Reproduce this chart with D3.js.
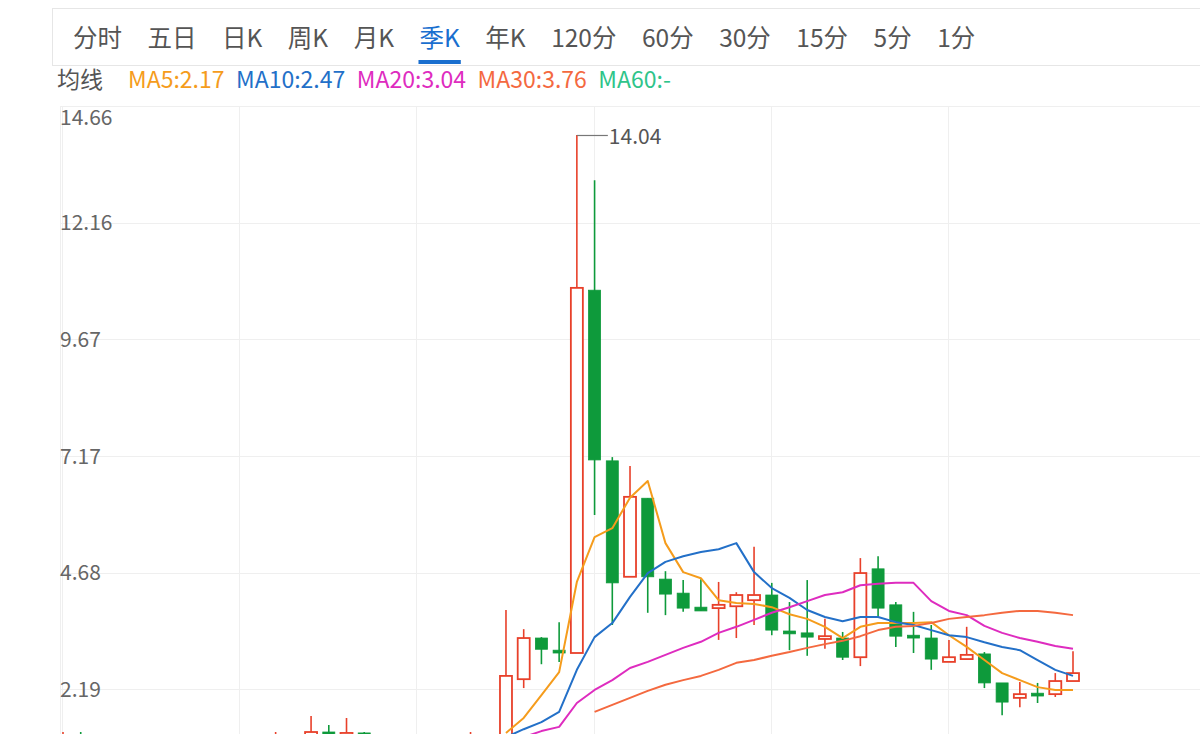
<!DOCTYPE html>
<html><head><meta charset="utf-8">
<script src="https://cdn.jsdelivr.net/npm/d3@7"></script>
<style>
body{margin:0;background:#fff;overflow:hidden}
svg{display:block;font-family:"Noto Sans CJK SC","Noto Sans",sans-serif}
</style>
</head><body>
<svg id="c" width="1200" height="734"></svg>
<script>
// ---------- data ----------
const tabs = ["分时","五日","日K","周K","月K","季K","年K","120分","60分","30分","15分","5分","1分"];
const activeTab = "季K";
const legendTitle = "均线";
const maLabels = ["MA5:2.17","MA10:2.47","MA20:3.04","MA30:3.76","MA60:-"];
const tickValues = [14.66, 12.16, 9.67, 7.17, 4.68, 2.19];
const tickLabels = ["14.66","12.16","9.67","7.17","4.68","2.19"];
const maxLabel = "14.04";

// quarterly candles (index 0..57)
const open  = [1.10,1.20,1.10,1.00,0.95,0.90,0.85,0.88,0.80,0.78,0.82,0.90,0.95,1.10,1.05,1.27,1.15,1.25,1.18,1.05,0.95,0.85,0.80,0.90,1.05,
               1.05,2.40,3.28,3.02,2.96,10.72,7.07,4.59,6.27,4.54,4.24,3.94,3.92,3.96,4.09,4.20,3.43,3.39,3.26,3.28,2.87,4.76,3.99,3.34,3.28,2.77,2.83,2.94,2.32,2.00,2.10,2.08,2.36];
const high  = [1.27,1.27,1.15,1.05,1.00,0.95,0.92,0.92,0.85,0.85,0.92,1.10,1.27,1.15,1.61,1.42,1.57,1.27,1.20,1.08,0.98,0.88,0.92,1.27,1.20,
               3.88,3.47,3.30,3.62,14.04,13.07,7.15,6.96,6.27,4.71,4.52,4.54,4.48,4.26,5.23,4.46,4.05,4.52,3.69,3.41,4.99,5.03,4.05,3.84,3.56,3.24,3.52,2.98,2.32,2.34,2.32,2.53,3.00];
const low   = [1.00,1.05,0.95,0.85,0.85,0.80,0.80,0.75,0.72,0.74,0.78,0.85,0.90,1.00,1.00,1.10,1.08,1.10,1.00,0.90,0.80,0.75,0.75,0.85,1.00,
               1.00,2.21,2.72,2.77,2.96,5.91,3.56,4.59,3.82,3.77,3.84,3.86,3.24,3.28,3.56,3.34,3.02,2.90,3.05,2.81,2.68,3.73,3.09,2.96,2.60,2.77,2.83,2.21,1.63,1.80,1.89,2.02,2.36];
const close = [1.20,1.12,1.00,0.95,0.90,0.85,0.88,0.80,0.78,0.82,0.90,0.95,1.10,1.05,1.27,1.15,1.25,1.18,1.05,0.95,0.85,0.80,0.90,1.05,1.15,
               2.47,3.28,3.04,2.96,10.77,7.09,4.46,6.30,4.59,4.22,3.92,3.86,3.99,4.20,4.20,3.45,3.37,3.30,3.32,2.87,4.67,3.92,3.32,3.28,2.83,2.87,2.92,2.32,1.91,2.08,2.04,2.36,2.53];

// moving averages (first visible index given separately)
const ma5Start = 25;
const ma5  = [1.25,1.57,2.06,2.55,4.48,5.44,5.63,6.28,6.64,5.31,4.69,4.56,4.09,4.03,4.01,3.94,3.79,3.69,3.52,3.28,3.52,3.60,3.60,3.60,3.62,3.34,3.09,2.81,2.53,2.38,2.23,2.17,2.17];
const ma10Start = 25;
const ma10 = [1.16,1.33,1.48,1.70,2.60,3.30,3.60,4.16,4.67,4.91,5.03,5.12,5.18,5.31,4.69,4.35,4.14,3.88,3.73,3.64,3.73,3.73,3.62,3.56,3.45,3.34,3.30,3.19,3.09,3.02,2.81,2.60,2.47];
const ma20Start = 25;
const ma20 = [1.06,1.16,1.29,1.38,1.89,2.17,2.38,2.64,2.77,2.92,3.07,3.20,3.39,3.52,3.67,3.82,3.94,4.07,4.20,4.26,4.41,4.44,4.46,4.46,4.07,3.86,3.77,3.54,3.39,3.28,3.20,3.11,3.05];
const ma30Start = 30;
const ma30 = [1.70,1.85,2.00,2.15,2.28,2.38,2.47,2.60,2.75,2.81,2.90,2.98,3.07,3.15,3.22,3.32,3.45,3.52,3.54,3.60,3.69,3.73,3.77,3.82,3.86,3.86,3.82,3.77];

// ---------- styles ----------
const C = {
  up:"#e8402a", down:"#0e9a3b", grid:"#efefef", axis:"#666", tab:"#555", active:"#1a6fcf",
  ma:["#f59c1c","#2370c8","#de2cbf","#f4693f","#2fc48a"]
};
const FONT = '"Noto Sans CJK SC","Noto Sans",sans-serif';

const svg = d3.select("#c");
const n = close.length;
const x = d3.scaleLinear().domain([0, n-1]).range([63, 1073]);
const y = d3.scaleLinear().domain([2.19, 14.66]).range([689, 106]);

// ---------- tab bar ----------
svg.append("rect").attr("x",52.5).attr("y",8.5).attr("width",1160).attr("height",57)
  .attr("fill","#fff").attr("stroke","#e6e6e6");
let tx = 73;
tabs.forEach(t=>{
  const el = svg.append("text").attr("x",tx).attr("y",47).attr("font-size",24.5)
    .attr("fill", t===activeTab?C.active:C.tab).text(t);
  const w = el.node().getComputedTextLength();
  if(t===activeTab){
    svg.append("rect").attr("x",tx-1).attr("y",60).attr("width",w+2).attr("height",4).attr("fill",C.active);
  }
  tx += w + 25.5;
});

// ---------- legend ----------
let lx = 57;
const lt = svg.append("text").attr("x",lx).attr("y",88).attr("font-size",23).attr("fill",C.tab).text(legendTitle);
lx += lt.node().getComputedTextLength() + 25;
maLabels.forEach((m,i)=>{
  const el = svg.append("text").attr("x",lx).attr("y",88).attr("font-size",23).attr("fill",C.ma[i]).text(m);
  lx += el.node().getComputedTextLength() + 11.5;
});

// ---------- grid ----------
const g = svg.append("g");
g.selectAll(".hg").data(tickValues).join("line")
  .attr("x1",60).attr("x2",1200).attr("y1",d=>Math.round(y(d))+0.5).attr("y2",d=>Math.round(y(d))+0.5)
  .attr("stroke",C.grid);
const vIdx = d3.range(0, 51, 10);
g.selectAll(".vg").data(vIdx).join("line")
  .attr("x1",d=>Math.round(x(d))-0.5).attr("x2",d=>Math.round(x(d))-0.5)
  .attr("y1",106).attr("y2",734).attr("stroke",C.grid);
g.append("line").attr("x1",60.5).attr("x2",60.5).attr("y1",106).attr("y2",734).attr("stroke",C.grid);

// y labels
const yAxis = d3.axisLeft(y).tickValues(tickValues).tickFormat((d,i)=>tickLabels[i]).tickSize(0);
const ya = svg.append("g").attr("transform","translate(60,0)").call(yAxis);
ya.select(".domain").remove();
ya.selectAll("text").attr("text-anchor","start").attr("x",0).attr("dy",null)
  .attr("dominant-baseline","central")
  .attr("font-size",21).attr("fill",C.axis).style("font-family",FONT)
  .attr("y",(d,i)=> i===0 ? 9 : -2);

// ---------- candles ----------
const idx = d3.range(n);
const bw = 12;
const cg = svg.append("g");
cg.selectAll(".wick").data(idx).join("line")
  .attr("x1",i=>x(i)).attr("x2",i=>x(i))
  .attr("y1",i=>y(high[i])).attr("y2",i=>y(low[i]))
  .attr("stroke",i=>close[i]>=open[i]?C.up:C.down).attr("stroke-width",1.6);
cg.selectAll(".body").data(idx).join("rect")
  .attr("x",i=>x(i)-bw/2)
  .attr("y",i=>y(Math.max(open[i],close[i])))
  .attr("width",bw)
  .attr("height",i=>Math.max(2, Math.abs(y(open[i])-y(close[i]))))
  .attr("fill",i=>close[i]>=open[i]?"#fff":C.down)
  .attr("stroke",i=>close[i]>=open[i]?C.up:C.down)
  .attr("stroke-width",i=>close[i]>=open[i]?1.8:0.8);

// max label
const mi = d3.maxIndex(high);
svg.append("line").attr("x1",x(mi)).attr("x2",x(mi)+31).attr("y1",y(high[mi])+0.5).attr("y2",y(high[mi])+0.5)
  .attr("stroke","#777").attr("stroke-width",1.2);
svg.append("text").attr("x",x(mi)+32).attr("y",y(high[mi])).attr("dominant-baseline","central")
  .attr("font-size",21).attr("fill","#555").text(maxLabel);

// ---------- MA lines ----------
const line = d3.line().x(d=>x(d[0])).y(d=>y(d[1])).curve(d3.curveLinear);
[[ma5,ma5Start],[ma10,ma10Start],[ma20,ma20Start],[ma30,ma30Start]].forEach(([arr,s],k)=>{
  svg.append("path").datum(arr.map((v,j)=>[s+j,v])).attr("d",line)
    .attr("fill","none").attr("stroke",C.ma[k]).attr("stroke-width",2).attr("stroke-linejoin","round");
});
</script>
</body></html>
